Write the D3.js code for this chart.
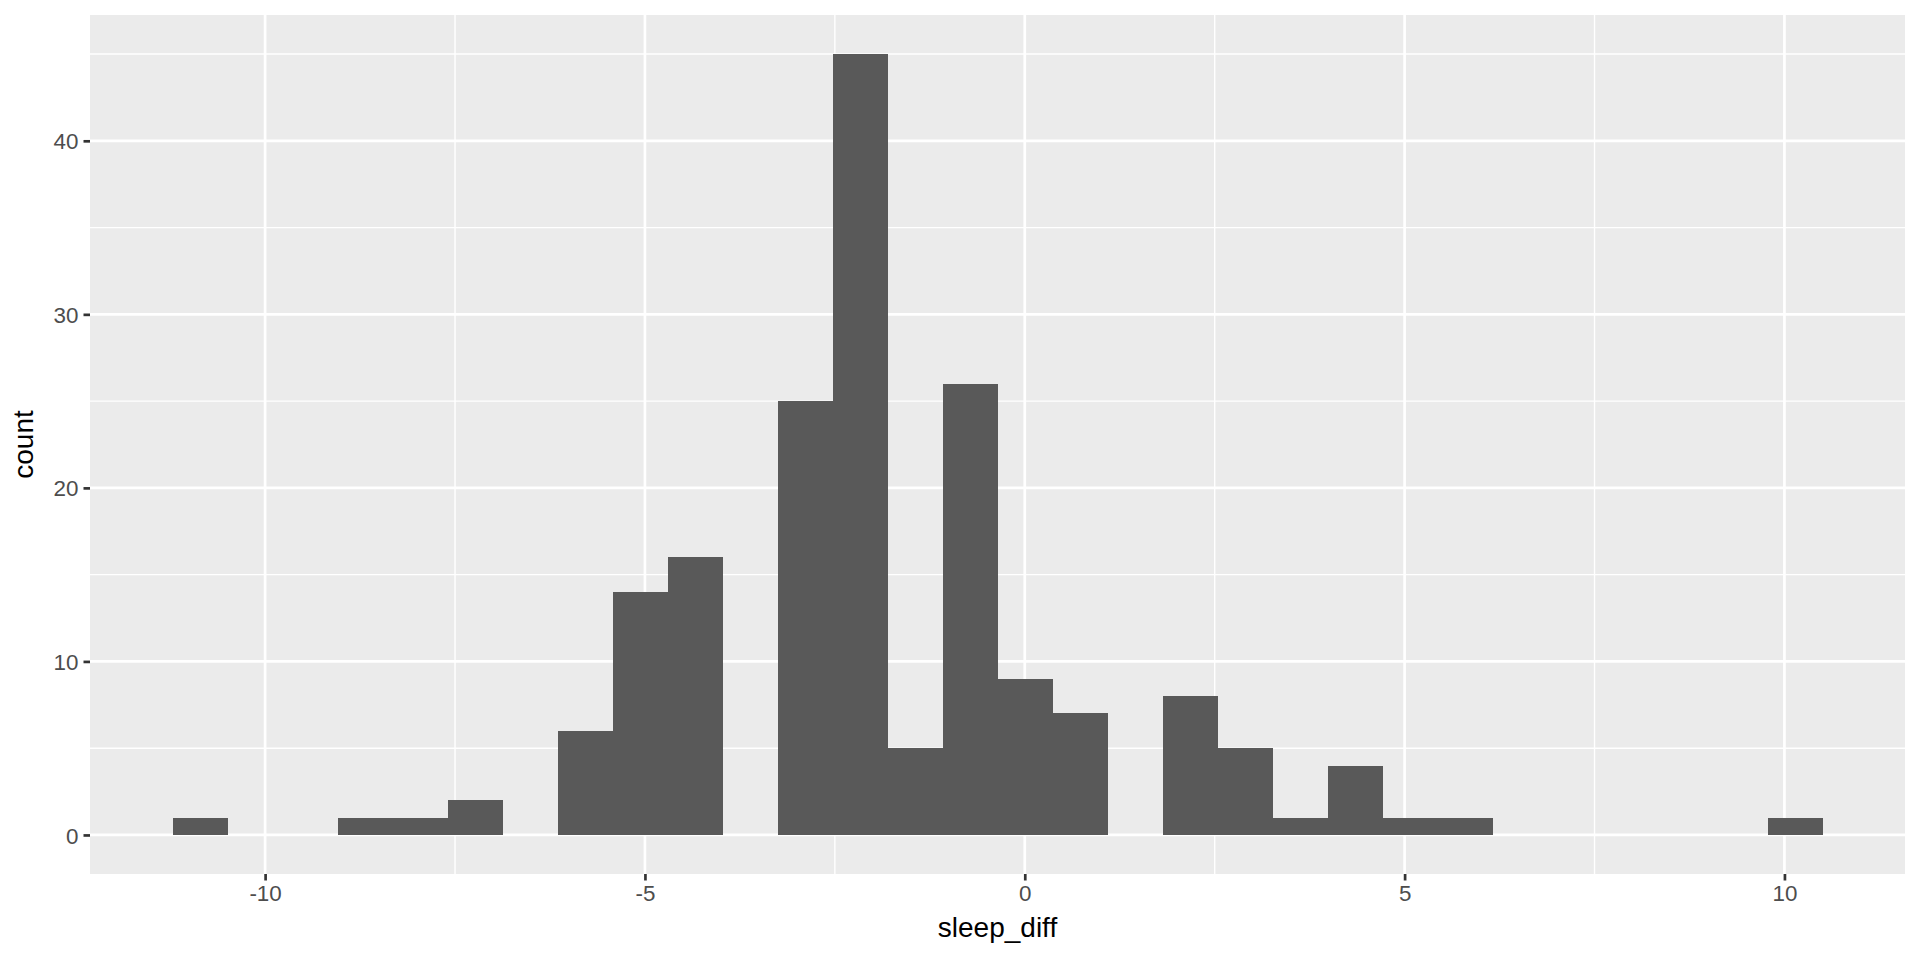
<!DOCTYPE html>
<html>
<head>
<meta charset="utf-8">
<script src="https://cdn.jsdelivr.net/npm/d3@7"></script>
<style>
  html, body { margin: 0; padding: 0; background: #ffffff; }
  svg { display: block; }
  text { font-family: "Liberation Sans", Arial, sans-serif; }
</style>
</head>
<body>
<svg id="chart" width="1920" height="960"></svg>
<script>
// ---- data ----
const binStart = -11.219;   // left edge of first bin
const binWidth = 0.724;     // bin width (30 bins)
const counts = [1, 0, 0, 1, 1, 2, 0, 6, 14, 16, 0, 25, 45, 5, 26, 9, 7, 0, 8, 5, 1, 4, 1, 1, 0, 0, 0, 0, 0, 1];
const xTicks = [-10, -5, 0, 5, 10];
const xMinor = [-7.5, -2.5, 2.5, 7.5];
const yTicks = [0, 10, 20, 30, 40];
const yMinor = [5, 15, 25, 35, 45];
const xLabel = "sleep_diff";
const yLabel = "count";

// ---- layout ----
const panel = { left: 90, top: 15, right: 1905, bottom: 874 };
const svg = d3.select("#chart");

const bins = counts.map((c, i) => ({ x0: binStart + i * binWidth, x1: binStart + (i + 1) * binWidth, count: c }));
const xMin = d3.min(bins, d => d.x0), xMax = d3.max(bins, d => d.x1);
const xPad = (xMax - xMin) * 0.05;
const yMax = d3.max(counts), yPad = yMax * 0.05;

const x = d3.scaleLinear().domain([xMin - xPad, xMax + xPad]).range([panel.left, panel.right]);
const y = d3.scaleLinear().domain([-yPad, yMax + yPad]).range([panel.bottom, panel.top]);

// panel background
svg.append("rect")
  .attr("x", panel.left).attr("y", panel.top)
  .attr("width", panel.right - panel.left).attr("height", panel.bottom - panel.top)
  .attr("fill", "#EBEBEB");

const grid = svg.append("g");
// minor grid
grid.selectAll(".xminor").data(xMinor).enter().append("line")
  .attr("x1", d => x(d)).attr("x2", d => x(d))
  .attr("y1", panel.top).attr("y2", panel.bottom)
  .attr("stroke", "#fff").attr("stroke-width", 1.4);
grid.selectAll(".yminor").data(yMinor).enter().append("line")
  .attr("y1", d => y(d)).attr("y2", d => y(d))
  .attr("x1", panel.left).attr("x2", panel.right)
  .attr("stroke", "#fff").attr("stroke-width", 1.4);
// major grid
grid.selectAll(".xmajor").data(xTicks).enter().append("line")
  .attr("x1", d => x(d)).attr("x2", d => x(d))
  .attr("y1", panel.top).attr("y2", panel.bottom)
  .attr("stroke", "#fff").attr("stroke-width", 2.7);
grid.selectAll(".ymajor").data(yTicks).enter().append("line")
  .attr("y1", d => y(d)).attr("y2", d => y(d))
  .attr("x1", panel.left).attr("x2", panel.right)
  .attr("stroke", "#fff").attr("stroke-width", 2.7);

// bars
svg.append("g").attr("shape-rendering", "crispEdges")
  .selectAll("rect").data(bins.filter(d => d.count > 0)).enter().append("rect")
  .attr("x", d => x(d.x0))
  .attr("width", d => x(d.x1) - x(d.x0))
  .attr("y", d => y(d.count))
  .attr("height", d => y(0) - y(d.count))
  .attr("fill", "#595959");

// axes
const fmt = d => String(d);  // plain hyphen-minus like the reference
const xAxis = d3.axisBottom(x).tickValues(xTicks).tickSize(6.5).tickPadding(5).tickFormat(fmt);
const yAxis = d3.axisLeft(y).tickValues(yTicks).tickSize(6.5).tickPadding(5).tickFormat(fmt);

const gx = svg.append("g").attr("transform", `translate(0,${panel.bottom})`).call(xAxis);
const gy = svg.append("g").attr("transform", `translate(${panel.left},0)`).call(yAxis);
[gx, gy].forEach(g => {
  g.select(".domain").remove();
  g.selectAll(".tick line").attr("stroke", "#333333").attr("stroke-width", 2.7);
  g.selectAll(".tick text").attr("fill", "#4D4D4D").attr("font-size", "22.4px")
    .attr("font-family", "'Liberation Sans', Arial, sans-serif");
});
gx.selectAll(".tick text").attr("dy", "0.71em");
gy.selectAll(".tick text").attr("dy", "0.36em");

// axis titles
svg.append("text")
  .attr("x", (panel.left + panel.right) / 2).attr("y", 937)
  .attr("text-anchor", "middle").attr("font-size", "28px").attr("fill", "#000")
  .text(xLabel);
svg.append("text")
  .attr("transform", `translate(33,${(panel.top + panel.bottom) / 2}) rotate(-90)`)
  .attr("text-anchor", "middle").attr("font-size", "28px").attr("fill", "#000")
  .text(yLabel);
</script>
</body>
</html>
